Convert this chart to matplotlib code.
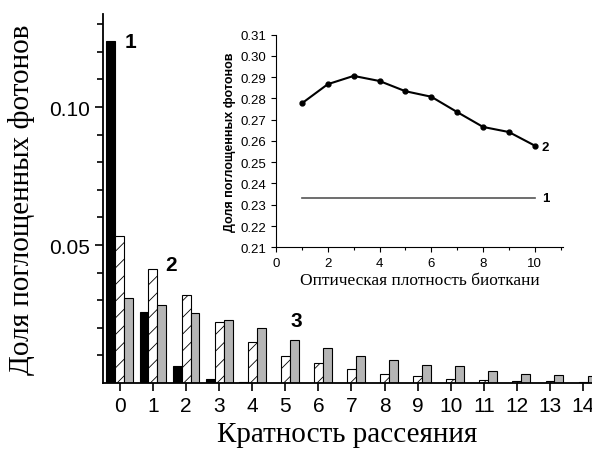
import matplotlib.pyplot as plt
import numpy as np
from matplotlib.ticker import MultipleLocator, FixedLocator

# scattering order distributions (three tissue cases)
orders = list(range(15))
frac_1 = [0.1239, 0.0257, 0.0060, 0.0013, 0.0003, 0, 0, 0, 0, 0, 0, 0, 0, 0, 0]
frac_2 = [0.0534, 0.0413, 0.0319, 0.0221, 0.0149, 0.0099, 0.0071, 0.0052,
          0.0033, 0.0024, 0.0016, 0.0011, 0.0007, 0.0006, 0.0002]
frac_3 = [0.0307, 0.0281, 0.0252, 0.0228, 0.0199, 0.0156, 0.0128, 0.0098,
          0.0082, 0.0066, 0.0062, 0.0045, 0.0033, 0.0028, 0.0027]

# inset: absorbed fraction vs optical density
density = [1, 2, 3, 4, 5, 6, 7, 8, 9, 10]
absorbed_2 = [0.2777, 0.2867, 0.2906, 0.2882, 0.2834, 0.2808, 0.2736,
              0.2666, 0.2642, 0.2578]
absorbed_1 = [0.2330] * len(density)

serif = 'Liberation Serif'
sans = 'Liberation Sans'
plt.rcParams['hatch.linewidth'] = 0.6
plt.rcParams['hatch.color'] = '#555555'

fig = plt.figure(figsize=(5.92, 4.52), dpi=100)
ax = fig.add_axes([0.174, 0.1504, 0.826, 0.8164])

x = np.array(orders)
w = 0.27
ax.bar(x - w, frac_1, w, color='black', edgecolor='black', linewidth=0.8)
ax.bar(x, frac_2, w, color='white', edgecolor='black', linewidth=0.8, hatch='//')
ax.bar(x + w, frac_3, w, color='#b5b5b5', edgecolor='black', linewidth=0.8)

ax.set_xlim(-0.51, 14.27)
ax.set_ylim(0, 0.1337)
ax.spines['top'].set_visible(False)
ax.spines['right'].set_visible(False)
ax.spines['left'].set_linewidth(1.3)
ax.spines['bottom'].set_linewidth(1.3)

ax.set_xticks(orders)
ax.yaxis.set_major_locator(FixedLocator([0.05, 0.10]))
ax.yaxis.set_minor_locator(FixedLocator([0.01, 0.02, 0.03, 0.04, 0.06, 0.07,
                                         0.08, 0.09, 0.11, 0.12, 0.13]))
ax.set_yticklabels(['0.05', '0.10'])
ax.tick_params(axis='both', direction='out', labelsize=15, width=1.2, length=6)
ax.tick_params(axis='y', which='minor', width=1.2, length=4)
for lab in ax.get_xticklabels() + ax.get_yticklabels():
    lab.set_fontfamily(sans)

ax.set_xlabel('Кратность рассеяния', fontfamily=serif, fontsize=21, labelpad=4)
ax.set_ylabel('Доля поглощенных фотонов', fontfamily=serif, fontsize=21, labelpad=10)

ax.text(0.15, 0.1237, '1', fontfamily=sans, fontsize=15, fontweight='bold', va='center')
ax.text(1.38, 0.0430, '2', fontfamily=sans, fontsize=15, fontweight='bold', va='center')
ax.text(5.17, 0.0225, '3', fontfamily=sans, fontsize=15, fontweight='bold', va='center')

# inset
ins = fig.add_axes([0.4662, 0.4507, 0.4853, 0.4704])
ins.plot(density, absorbed_2, color='black', linewidth=1.5, marker='o', markersize=3.5)
ins.plot(density, absorbed_1, color='#555555', linewidth=1.2)
ins.set_xlim(0, 11.1)
ins.set_ylim(0.21, 0.31)
ins.spines['top'].set_visible(False)
ins.spines['right'].set_visible(False)
ins.xaxis.set_major_locator(MultipleLocator(2))
ins.xaxis.set_minor_locator(MultipleLocator(1))
ins.yaxis.set_major_locator(MultipleLocator(0.01))
ins.yaxis.set_major_formatter(plt.FormatStrFormatter('%.2f'))
ins.tick_params(axis='both', direction='out', labelsize=9.5, length=3.5, width=0.8)
ins.tick_params(axis='x', which='minor', length=2.5, width=0.8)
for lab in ins.get_xticklabels() + ins.get_yticklabels():
    lab.set_fontfamily(sans)
ins.set_xlabel('Оптическая плотность биоткани', fontfamily=serif, fontsize=12.5, labelpad=2)
ins.set_ylabel('Доля поглощенных фотонов', fontfamily=sans, fontsize=9,
               fontweight='bold', labelpad=3)
ins.text(10.25, absorbed_2[-1] - 0.0005, '2', fontfamily=sans, fontsize=9.5,
         fontweight='bold', va='center')
ins.text(10.3, absorbed_1[-1], '1', fontfamily=sans, fontsize=9.5,
         fontweight='bold', va='center')

fig.savefig('out.png', dpi=100)
